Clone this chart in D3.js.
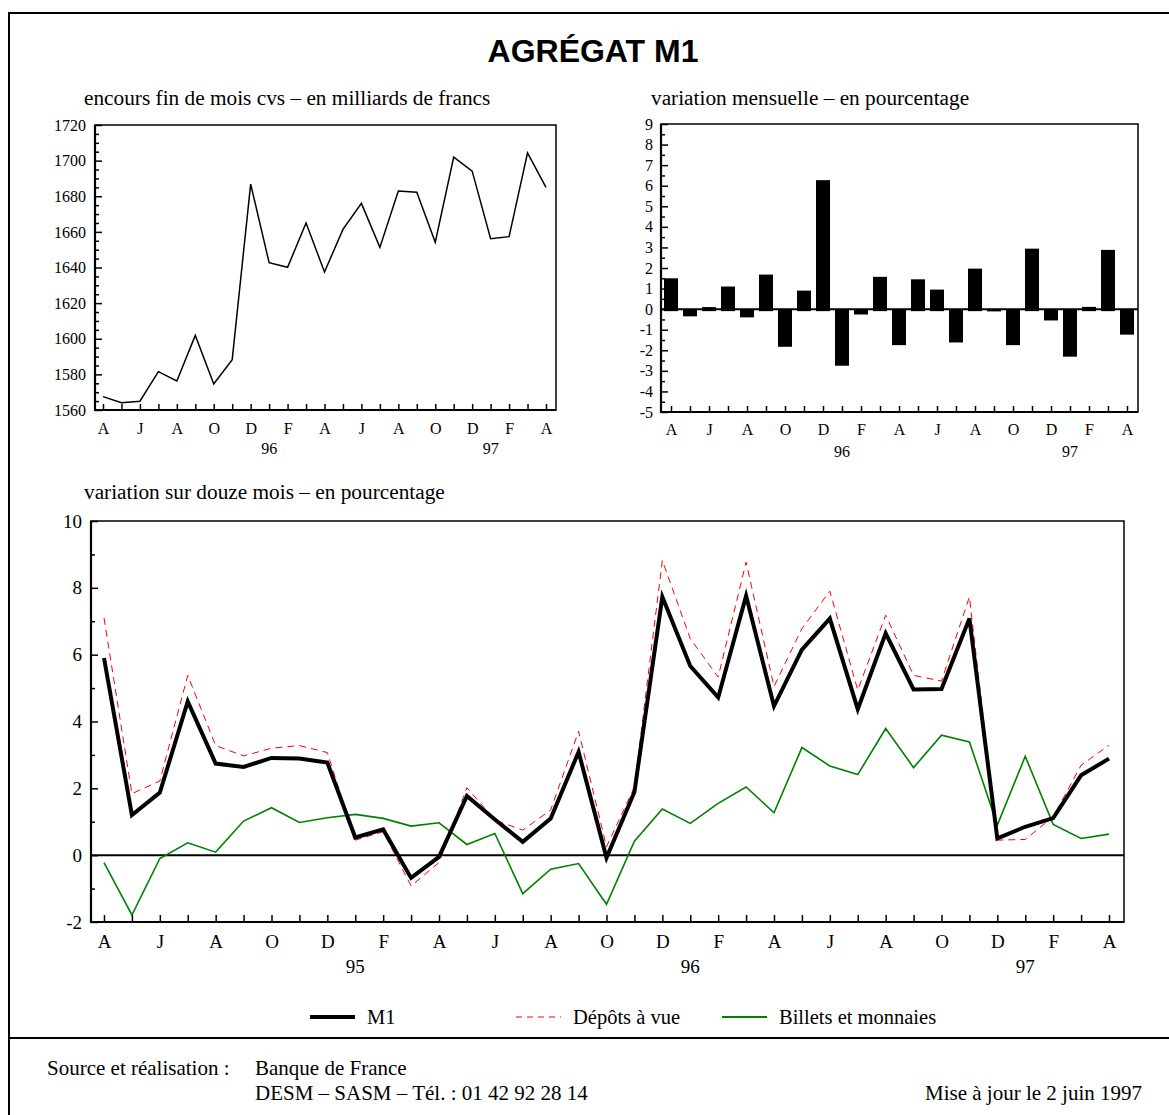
<!DOCTYPE html>
<html>
<head>
<meta charset="utf-8">
<script src="https://cdnjs.cloudflare.com/ajax/libs/d3/7.8.5/d3.min.js"></script>
<style>
body { margin: 0; background: #fff; }
svg text { font-family: "Liberation Serif", "Times New Roman", serif; fill: #000; }
</style>
</head>
<body>
<svg id="chart" width="1169" height="1115"></svg>
<script>
// months shown in the two top panels (avril 95 -> avril 97)
var moisHaut = ["95-04","95-05","95-06","95-07","95-08","95-09","95-10","95-11","95-12",
    "96-01","96-02","96-03","96-04","96-05","96-06","96-07","96-08","96-09","96-10","96-11","96-12",
    "97-01","97-02","97-03","97-04"];
var etiquettesHaut = ["A","J","A","O","D","F","A","J","A","O","D","F","A"];
var anneesHaut = [["96","96-01"], ["97","97-01"]];

// encours fin de mois cvs, milliards de francs
var encours = [1567.5, 1564.1, 1564.9, 1581.5, 1576.3, 1601.9, 1574.6, 1588.3, 1686.8,
    1642.7, 1640.1, 1665.0, 1637.5, 1661.4, 1676.0, 1651.3, 1682.9, 1682.2, 1654.1, 1702.0,
    1694.1, 1656.2, 1657.3, 1704.4, 1685.0];

// variation mensuelle, %
var variationMensuelle = [1.5, -0.35, 0.1, 1.1, -0.4, 1.68, -1.83, 0.9, 6.27,
    -2.75, -0.26, 1.57, -1.75, 1.45, 0.95, -1.62, 1.97, -0.11, -1.75, 2.94,
    -0.55, -2.31, 0.11, 2.88, -1.24];

// months of the bottom panel (avril 94 -> avril 97)
var moisBas = ["94-04","94-05","94-06","94-07","94-08","94-09","94-10","94-11","94-12",
    "95-01","95-02","95-03","95-04","95-05","95-06","95-07","95-08","95-09","95-10","95-11","95-12",
    "96-01","96-02","96-03","96-04","96-05","96-06","96-07","96-08","96-09","96-10","96-11","96-12",
    "97-01","97-02","97-03","97-04"];
var etiquettesBas = ["A","J","A","O","D","F","A","J","A","O","D","F","A","J","A","O","D","F","A"];
var anneesBas = [["95","95-01"], ["96","96-01"], ["97","97-01"]];

// variation sur douze mois, %
var m1 = [5.9, 1.2, 1.87, 4.6, 2.74, 2.64, 2.91, 2.89, 2.77,
    0.53, 0.77, -0.68, -0.05, 1.77, 1.07, 0.4, 1.1, 3.09, -0.08, 1.89, 7.73,
    5.66, 4.72, 7.76, 4.46, 6.15, 7.08, 4.37, 6.64, 4.96, 4.97, 7.08, 0.5,
    0.85, 1.11, 2.39, 2.89];
var depotsAVue = [7.1, 1.84, 2.22, 5.38, 3.28, 2.97, 3.2, 3.28, 3.07,
    0.45, 0.7, -0.92, -0.22, 2.02, 1.05, 0.75, 1.35, 3.71, 0.25, 2.04, 8.82,
    6.48, 5.33, 8.77, 5.05, 6.78, 7.9, 4.94, 7.18, 5.38, 5.21, 7.73, 0.45,
    0.47, 1.15, 2.69, 3.29];
var billets = [-0.22, -1.79, -0.1, 0.37, 0.09, 1.02, 1.42, 0.98, 1.12,
    1.22, 1.1, 0.87, 0.97, 0.32, 0.65, -1.15, -0.42, -0.25, -1.47, 0.42, 1.38,
    0.95, 1.55, 2.04, 1.27, 3.22, 2.67, 2.41, 3.79, 2.62, 3.59, 3.39, 0.9,
    2.96, 0.92, 0.5, 0.63];

var series = [
    {nom: "M1", valeurs: m1, couleur: "#000", largeur: 4, tirets: null},
    {nom: "Dépôts à vue", valeurs: depotsAVue, couleur: "#ff0000", largeur: 1, tirets: "7,5"},
    {nom: "Billets et monnaies", valeurs: billets, couleur: "#008000", largeur: 1.6, tirets: null}
];

var svg = d3.select("#chart");
var serif = "'Liberation Serif', 'Times New Roman', serif";

// outer frame and footer separator
svg.append("path").attr("d", "M9,1115 V13 H1169").attr("fill", "none")
    .attr("stroke", "#000").attr("stroke-width", 2);
svg.append("line").attr("x1", 9).attr("x2", 1169).attr("y1", 1038).attr("y2", 1038)
    .attr("stroke", "#000").attr("stroke-width", 2);

svg.append("text").attr("x", 593).attr("y", 62).attr("text-anchor", "middle")
    .style("font-family", "'Liberation Sans', Arial, sans-serif")
    .style("font-weight", "bold").style("font-size", "32px").text("AGRÉGAT M1");

function cadre(x0, x1, y0, y1) {
    svg.append("rect").attr("x", x0).attr("y", y0).attr("width", x1 - x0).attr("height", y1 - y0)
        .attr("fill", "none").attr("stroke", "#000").attr("stroke-width", 1.5);
    svg.append("path").attr("d", "M" + x0 + "," + y0 + " V" + y1 + " H" + x1)
        .attr("fill", "none").attr("stroke", "#000").attr("stroke-width", 2.2);
}

function axeX(x, mois, etiquettes, annees, yBas, taille, tick, pad, yAnnee) {
    var axis = d3.axisBottom(x).tickSize(-tick).tickPadding(pad)
        .tickFormat(function(d) {
            var i = mois.indexOf(d);
            return i % 2 == 0 ? etiquettes[i / 2] : "";
        });
    var g = svg.append("g").attr("transform", "translate(0," + yBas + ")").call(axis);
    g.select(".domain").remove();
    g.selectAll("line").attr("stroke", "#000").attr("stroke-width", 1.5);
    g.selectAll("text").attr("fill", "#000").style("font-size", taille + "px").style("font-family", serif);
    annees.forEach(function(a) {
        svg.append("text").attr("x", x(a[1])).attr("y", yAnnee).attr("text-anchor", "middle")
            .style("font-size", taille + "px").text(a[0]);
    });
}

function axeY(y, xGauche, majeurs, mineurs, taille, pad) {
    var axis = d3.axisLeft(y).tickValues(majeurs).tickSize(-7).tickPadding(pad)
        .tickFormat(function(d) { return String(d); });
    var g = svg.append("g").attr("transform", "translate(" + xGauche + ",0)").call(axis);
    g.select(".domain").remove();
    g.selectAll("line").attr("stroke", "#000").attr("stroke-width", 1.5);
    g.selectAll("text").attr("fill", "#000").style("font-size", taille + "px").style("font-family", serif);
    var gm = svg.append("g").attr("transform", "translate(" + xGauche + ",0)")
        .call(d3.axisLeft(y).tickValues(mineurs).tickSize(-4).tickFormat(""));
    gm.select(".domain").remove();
    gm.selectAll("line").attr("stroke", "#000").attr("stroke-width", 1.5);
}

// ---------- top left: encours ----------
svg.append("text").attr("x", 84).attr("y", 105).style("font-size", "21.3px")
    .text("encours fin de mois cvs – en milliards de francs");

var xEnc = d3.scalePoint().domain(moisHaut).range([103, 546]);
var yEnc = d3.scaleLinear().domain([1560, 1720]).range([410, 125]);

svg.append("path").datum(encours)
    .attr("d", d3.line().x(function(d, i) { return xEnc(moisHaut[i]); }).y(function(d) { return yEnc(d); }))
    .attr("fill", "none").attr("stroke", "#000").attr("stroke-width", 1.5);

cadre(95, 556, 125, 410);
axeY(yEnc, 95, d3.range(1560, 1721, 20), d3.range(1565, 1720, 5).filter(function(v) { return v % 20 != 0; }), 16, 9);
axeX(xEnc, moisHaut, etiquettesHaut, anneesHaut, 410, 16, 6, 13, 454);

// ---------- top right: variation mensuelle ----------
svg.append("text").attr("x", 651).attr("y", 105).style("font-size", "21.3px")
    .text("variation mensuelle – en pourcentage");

var xVar = d3.scalePoint().domain(moisHaut).range([671, 1127]);
var yVar = d3.scaleLinear().domain([-5, 9]).range([412, 124]);

svg.append("g").selectAll("rect").data(variationMensuelle).enter().append("rect")
    .attr("x", function(d, i) { return xVar(moisHaut[i]) - 7; })
    .attr("width", 14)
    .attr("y", function(d) { return yVar(Math.max(0, d)); })
    .attr("height", function(d) { return Math.abs(yVar(d) - yVar(0)) + (d > 0 ? 2 : 0); })
    .attr("fill", "#000");

svg.append("line").attr("x1", 661).attr("x2", 1138).attr("y1", yVar(0)).attr("y2", yVar(0))
    .attr("stroke", "#000").attr("stroke-width", 2);

cadre(661, 1138, 124, 412);
axeY(yVar, 661, d3.range(-5, 10, 1), d3.range(-4.5, 9, 1), 16, 8);
axeX(xVar, moisHaut, etiquettesHaut, anneesHaut, 412, 16, 6, 12, 457);

// ---------- bottom: variation sur douze mois ----------
svg.append("text").attr("x", 84).attr("y", 499).style("font-size", "21.3px")
    .text("variation sur douze mois – en pourcentage");

var xAn = d3.scalePoint().domain(moisBas).range([104, 1109]);
var yAn = d3.scaleLinear().domain([-2, 10]).range([922, 521]);

svg.append("line").attr("x1", 91).attr("x2", 1124).attr("y1", yAn(0)).attr("y2", yAn(0))
    .attr("stroke", "#000").attr("stroke-width", 2);

var ligne = d3.line().x(function(d, i) { return xAn(moisBas[i]); }).y(function(d) { return yAn(d); });

// draw green first, then red dashed, then M1 on top
[series[2], series[1], series[0]].forEach(function(s) {
    svg.append("path").datum(s.valeurs).attr("d", ligne)
        .attr("fill", "none").attr("stroke", s.couleur).attr("stroke-width", s.largeur)
        .attr("stroke-dasharray", s.tirets).attr("stroke-linejoin", "miter");
});

cadre(91, 1124, 521, 922);
axeY(yAn, 91, d3.range(-2, 11, 2), d3.range(-1, 10, 2), 19, 9);
axeX(xAn, moisBas, etiquettesBas, anneesBas, 922, 19, 7, 13, 973);

// legend
var legendeX = [310, 516, 722];
series.forEach(function(s, i) {
    svg.append("line").attr("x1", legendeX[i]).attr("x2", legendeX[i] + 45)
        .attr("y1", 1017).attr("y2", 1017)
        .attr("stroke", s.couleur).attr("stroke-width", s.largeur == 4 ? 4 : (s.largeur < 1.5 ? 1 : 2))
        .attr("stroke-dasharray", s.tirets ? "6,5" : null);
    svg.append("text").attr("x", legendeX[i] + 57).attr("y", 1024)
        .style("font-size", "20.5px").text(s.nom);
});

// footer
svg.append("text").attr("x", 47).attr("y", 1075).style("font-size", "21px").text("Source et réalisation :");
svg.append("text").attr("x", 255).attr("y", 1075).style("font-size", "21px").text("Banque de France");
svg.append("text").attr("x", 255).attr("y", 1100).style("font-size", "21px").text("DESM – SASM – Tél. : 01 42 92 28 14");
svg.append("text").attr("x", 1142).attr("y", 1100).attr("text-anchor", "end").style("font-size", "21px")
    .text("Mise à jour le 2 juin 1997");
</script>
</body>
</html>
